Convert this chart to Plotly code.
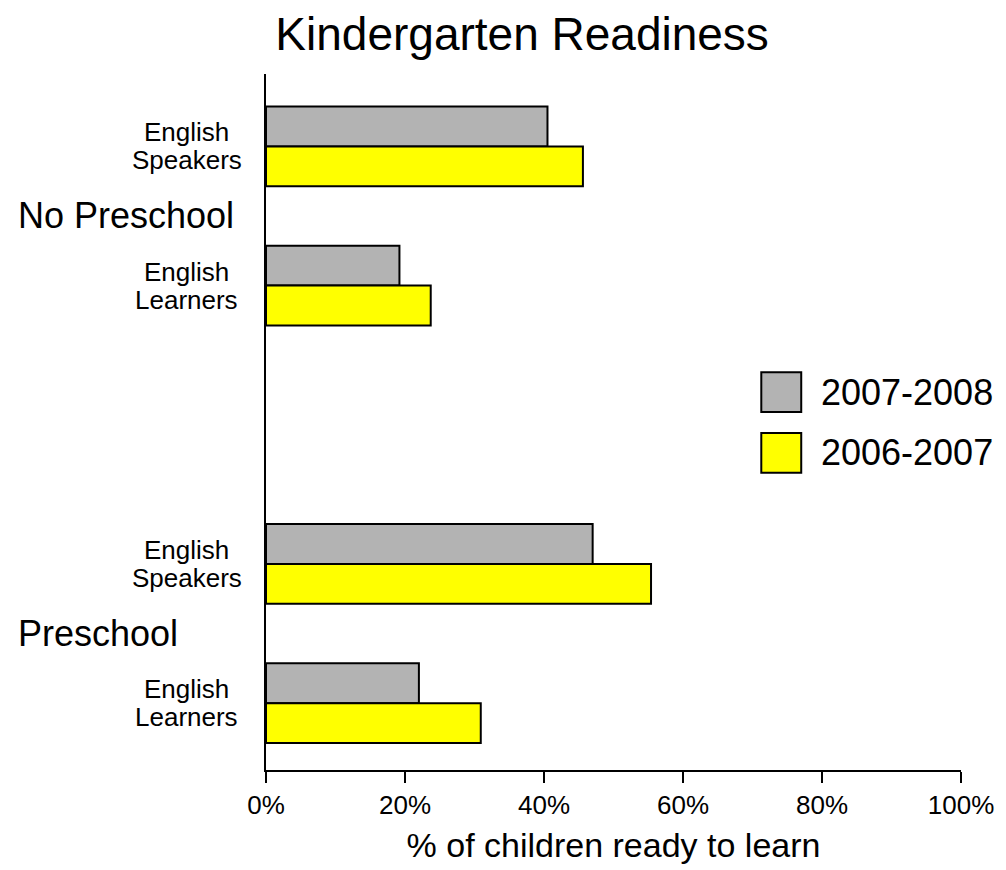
import plotly.graph_objects as go

# categories top to bottom ("gap" is the empty slot between the two groups)
cat_keys = ["np_speakers", "np_learners", "gap", "p_speakers", "p_learners"]
cat_labels = ["English<br>Speakers", "English<br>Learners", "", "English<br>Speakers", "English<br>Learners"]
groups = ["No Preschool", "Preschool"]
group_members = [("np_speakers", "np_learners"), ("p_speakers", "p_learners")]

bar_keys = ["np_speakers", "np_learners", "p_speakers", "p_learners"]
y2007_2008 = [40.5, 19.2, 47.0, 22.0]
y2006_2007 = [45.6, 23.7, 55.4, 30.9]

series = ["2007-2008", "2006-2007"]
colors = ["#b3b3b3", "#ffff00"]

FONT = "Liberation Sans, Arial, Helvetica, sans-serif"

fig = go.Figure()
for name, vals, col in zip(series, [y2007_2008, y2006_2007], colors):
    fig.add_trace(go.Bar(
        y=bar_keys, x=vals, name=name, orientation="h",
        marker=dict(color=col, line=dict(color="black", width=2)),
        showlegend=False,
    ))

fig.update_layout(
    width=1006, height=870,
    margin=dict(l=266, r=44, t=74, b=98),
    paper_bgcolor="white", plot_bgcolor="white",
    barmode="group", bargap=0.427, bargroupgap=0,
    font=dict(family=FONT, color="black"),
    title=dict(text="Kindergarten Readiness", x=0.519, xanchor="center",
               y=1 - 34 / 870, yanchor="middle", font=dict(size=46)),
)

fig.update_xaxes(
    range=[0, 100], tickmode="linear", tick0=0, dtick=20, ticksuffix="%",
    showgrid=False, zeroline=False,
    showline=True, linecolor="black", linewidth=2,
    ticks="outside", ticklen=11, tickwidth=2, tickcolor="black",
    tickfont=dict(size=26),
    title=dict(text="% of children ready to learn", font=dict(size=34), standoff=14),
)
fig.update_yaxes(
    type="category", categoryorder="array", categoryarray=cat_keys,
    range=[4.48, -0.52], showticklabels=False, ticks="",
    showgrid=False, zeroline=False,
    showline=True, linecolor="black", linewidth=2,
)

# category labels, centred lines with tight spacing like the original
for key, lab in zip(cat_keys, cat_labels):
    if not lab:
        continue
    lines = lab.split("<br>")
    for i, line in enumerate(lines):
        fig.add_annotation(x=-0.114, xref="paper", y=key, yref="y", text=line,
                           showarrow=False, xanchor="center", yanchor="middle",
                           yshift=(len(lines) - 1) * 14 - i * 28,
                           font=dict(size=26))

# group labels halfway between their two categories
for g, (a, b) in zip(groups, group_members):
    ymid = (cat_keys.index(a) + cat_keys.index(b)) / 2
    fig.add_annotation(x=-0.359, xref="paper", y=ymid, yref="y", text=g,
                       showarrow=False, xanchor="left", font=dict(size=36))

# legend drawn by hand for the large swatches
leg_y = [393, 454]
for name, col, yc in zip(series, colors, leg_y):
    fig.add_shape(type="rect", xref="paper", yref="paper",
                  x0=(762 - 266) / 696, x1=(802 - 266) / 696,
                  y0=(870 - 98 - (yc + 20)) / 698, y1=(870 - 98 - (yc - 20)) / 698,
                  fillcolor=col, line=dict(color="black", width=2))
    fig.add_annotation(x=(820 - 266) / 696, xref="paper",
                       y=(870 - 98 - yc) / 698, yref="paper", text=name,
                       showarrow=False, xanchor="left", yanchor="middle",
                       font=dict(size=36))

fig.write_html("out.html", config={"displayModeBar": False},
               post_script="document.body.style.margin='0px';")
